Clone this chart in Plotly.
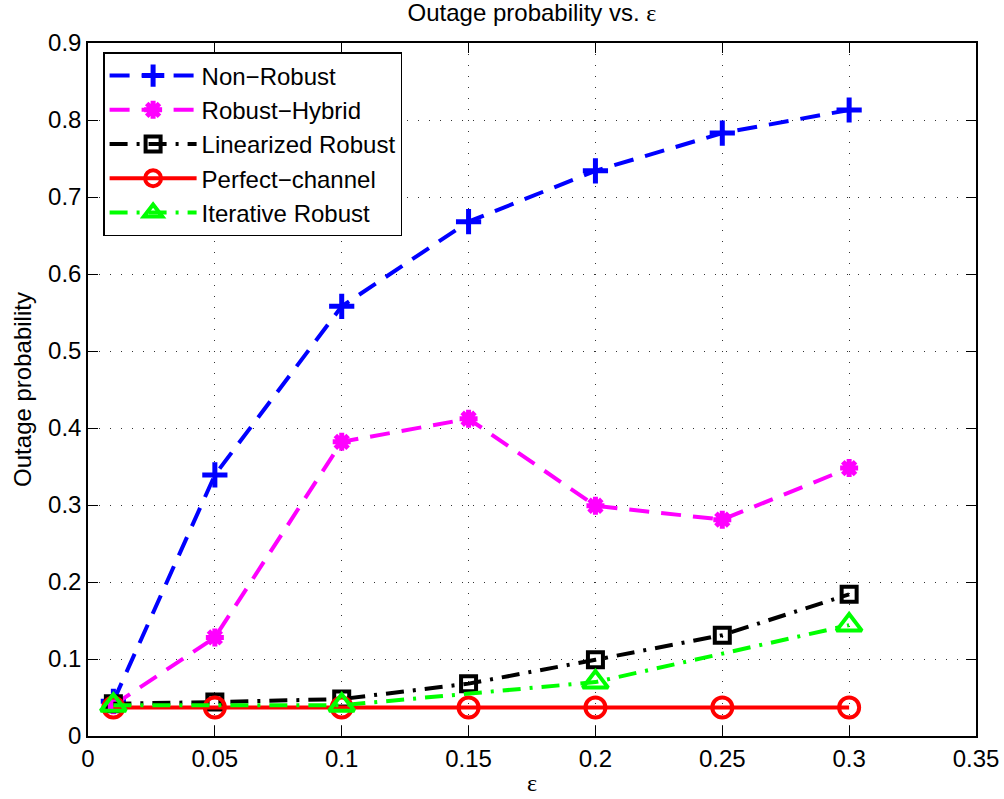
import plotly.graph_objects as go

eps = [0.01, 0.05, 0.1, 0.15, 0.2, 0.25, 0.3]
eps_iter = [0.01, 0.1, 0.2, 0.3]

non_robust = [0.045, 0.339, 0.558, 0.668, 0.734, 0.783, 0.813]
robust_hybrid = [0.040, 0.128, 0.382, 0.412, 0.299, 0.281, 0.348]
linearized_robust = [0.042, 0.044, 0.048, 0.068, 0.099, 0.131, 0.184]
perfect_channel = [0.037, 0.037, 0.037, 0.037, 0.037, 0.037, 0.037]
iterative_robust = [0.040, 0.040, 0.070, 0.144]

x_ticks = [0, 0.05, 0.1, 0.15, 0.2, 0.25, 0.3, 0.35]
x_tick_text = ["0", "0.05", "0.1", "0.15", "0.2", "0.25", "0.3", "0.35"]
y_ticks = [0, 0.1, 0.2, 0.3, 0.4, 0.5, 0.6, 0.7, 0.8, 0.9]
y_tick_text = ["0", "0.1", "0.2", "0.3", "0.4", "0.5", "0.6", "0.7", "0.8", "0.9"]

FONT = "Liberation Sans, Arial, sans-serif"
FS = 24
EPS = '<span style="font-family:Liberation Serif, Times New Roman, serif">ε</span>'

DASH = "20px,12px"
DASHDOT = "18px,9px,3px,9px"

fig = go.Figure()

series = [
    ("Non−Robust", eps, non_robust, "#0000ff", DASH, "cross-thin-open", 18, 5),
    ("Robust−Hybrid", eps, robust_hybrid, "#ff00ff", DASH, "asterisk-open", 15, 5),
    ("Linearized Robust", eps, linearized_robust, "#000000", DASHDOT, "square-open", 15, 4),
    ("Perfect−channel", eps, perfect_channel, "#ff0000", "solid", "circle-open", 20, 4),
    ("Iterative Robust", eps_iter, iterative_robust, "#00ff00", DASHDOT, "triangle-up-open", 22, 4),
]

for name, xs, ys, color, dash, symbol, size, mlw in series:
    fig.add_trace(go.Scatter(
        x=xs, y=ys, name=name, mode="lines+markers",
        line=dict(color=color, width=4, dash=dash),
        marker=dict(symbol=symbol, size=size, color=color,
                    line=dict(color=color, width=mlw)),
    ))

axis_common = dict(
    showline=True, linecolor="black", linewidth=1.5, mirror="ticks",
    ticks="inside", ticklen=10, tickcolor="black", tickwidth=1,
    showgrid=True, gridcolor="#333333", griddash="1px,10px", gridwidth=1,
    zeroline=False, automargin=False,
    tickfont=dict(family=FONT, size=FS, color="black"),
)

fig.update_xaxes(range=[0, 0.35], tickvals=x_ticks, ticktext=x_tick_text,
                 title=dict(text=EPS, font=dict(family=FONT, size=FS, color="black"), standoff=4),
                 **axis_common)
fig.update_yaxes(range=[0, 0.9], tickvals=y_ticks, ticktext=y_tick_text,
                 title=dict(text="Outage probability", font=dict(family=FONT, size=FS, color="black"), standoff=10),
                 **axis_common)

fig.update_layout(
    width=1004, height=799,
    margin=dict(l=88, r=28, t=43, b=63),
    paper_bgcolor="white", plot_bgcolor="white",
    title=dict(text="Outage probability vs. " + EPS, x=0.5, xref="paper", xanchor="center",
               y=0.995, yanchor="top",
               font=dict(family=FONT, size=FS, color="black")),
    legend=dict(x=0.017, y=0.987, xanchor="left", yanchor="top",
                bgcolor="white", bordercolor="black", borderwidth=1.5,
                font=dict(family=FONT, size=FS, color="black"),
                itemwidth=87),
    showlegend=True,
)

fig.write_html("out.html")
